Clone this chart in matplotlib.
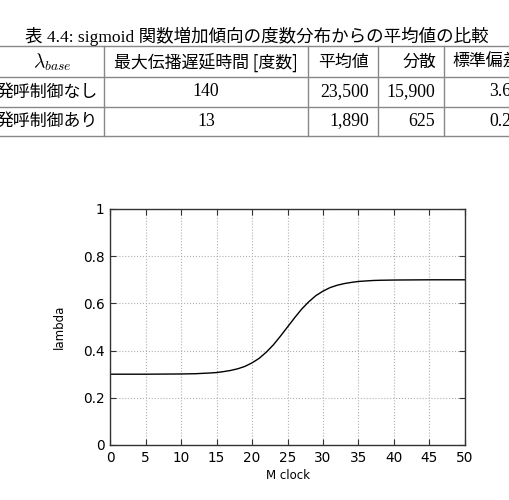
import matplotlib
matplotlib.use("Agg")
import matplotlib.pyplot as plt
from matplotlib.lines import Line2D

plt.rcParams['mathtext.fontset'] = 'cm'

# Table contents (above the chart)
title = "表 4.4: sigmoid 関数増加傾向の度数分布からの平均値の比較"
header = [r"$\lambda_{base}$", "最大伝播遅延時間 [度数]", "平均値", "分散", "標準偏差"]
row_labels = ["発呼制御なし", "発呼制御あり"]
max_delay = ["140", "13"]
mean_vals = ["23,500", "1,890"]
var_vals = ["15,900", "625"]
std_vals = ["3.6", "0.2"]

# Curve: lambda vs M clock
m_clock = [0, 5, 10, 12, 14, 15, 16, 17, 18, 19, 20, 21, 22, 23, 24, 25,
           26, 27, 28, 29, 30, 31, 32, 33, 34, 35, 36, 37, 38, 40, 45, 50]
lam = [0.300, 0.300, 0.301, 0.302, 0.305, 0.307, 0.311, 0.316, 0.323, 0.333,
       0.348, 0.367, 0.393, 0.424, 0.461, 0.500, 0.539, 0.576, 0.607, 0.633,
       0.652, 0.667, 0.677, 0.684, 0.689, 0.693, 0.695, 0.697, 0.698, 0.699,
       0.700, 0.700]

W, H = 510, 500
fig = plt.figure(figsize=(W / 100, H / 100), dpi=100)


def fx(x):
    return x / W


def fy(y):
    return 1 - y / H


serif = ['Liberation Serif', 'Noto Sans CJK JP']
cjk = ['Noto Sans CJK JP', 'DejaVu Sans']
csize = 12.2   # CJK text in table
nsize = 12.8   # numbers in table

# title
fig.text(fx(257), fy(36), title, ha='center', va='center', fontsize=12.6, family=serif)

# table rules
for y in [46, 77, 107, 136]:
    fig.add_artist(Line2D([0, 1], [fy(y), fy(y)], transform=fig.transFigure,
                          color='#888888', lw=1.0))
for x in [104, 308, 378, 444]:
    fig.add_artist(Line2D([fx(x), fx(x)], [fy(46), fy(136)], transform=fig.transFigure,
                          color='#888888', lw=1.0))

# header row
yh = 62
fig.text(fx(52), fy(yh), header[0], ha='center', va='center', fontsize=14)
fig.text(fx(206), fy(yh), header[1], ha='center', va='center', fontsize=csize, family=cjk)
fig.text(fx(343), fy(yh), header[2], ha='center', va='center', fontsize=csize, family=cjk)
fig.text(fx(436), fy(yh), header[3], ha='right', va='center', fontsize=csize, family=cjk)
fig.text(fx(452), fy(yh), header[4], ha='left', va='center', fontsize=csize, family=cjk)

# data rows
for i, y in enumerate([92, 121]):
    fig.text(fx(98), fy(y), row_labels[i], ha='right', va='center', fontsize=csize, family=cjk)
    fig.text(fx(206), fy(y), max_delay[i], ha='center', va='center', fontsize=nsize, family=serif)
    fig.text(fx(369), fy(y), mean_vals[i], ha='right', va='center', fontsize=nsize, family=serif)
    fig.text(fx(435), fy(y), var_vals[i], ha='right', va='center', fontsize=nsize, family=serif)
    fig.text(fx(489), fy(y), std_vals[i], ha='left', va='center', fontsize=nsize, family=serif)

# chart
ax = fig.add_axes([fx(110), fy(445), fx(465) - fx(110), fy(209) - fy(445)])
ax.plot(m_clock, lam, color='black', lw=1.0)
ax.set_xlim(0, 50)
ax.set_ylim(0, 1)
ax.set_xticks(range(0, 51, 5))
ax.set_yticks([0, 0.2, 0.4, 0.6, 0.8, 1])
ax.set_yticklabels(['0', '0.2', '0.4', '0.6', '0.8', '1'])
ax.grid(True, color='#b0b0b0', linestyle=':', lw=0.8)
ax.tick_params(direction='in', top=True, right=True, length=4, width=0.8,
               labelsize=9.8, pad=4, color='#333333')
for s in ax.spines.values():
    s.set_color('#333333')
    s.set_linewidth(1.0)
ax.set_xlabel('M clock', fontsize=8.5, labelpad=3)
ax.set_ylabel('lambda', fontsize=8.5, labelpad=12)

fig.savefig('out.png', dpi=100)
